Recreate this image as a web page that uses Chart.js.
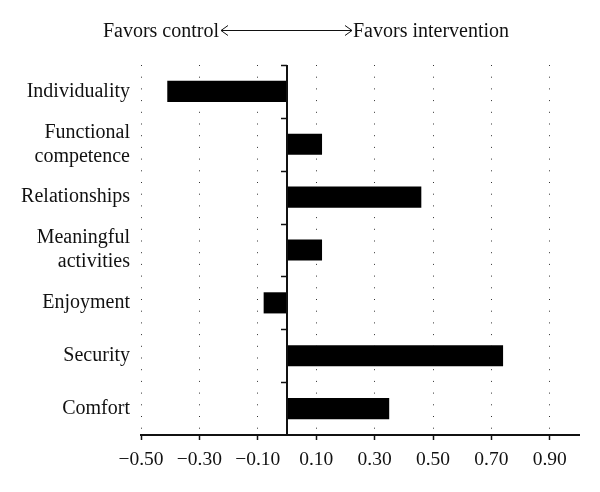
<!DOCTYPE html>
<html>
<head>
<meta charset="utf-8">
<script src="https://cdn.jsdelivr.net/npm/chart.js@4"></script>
<style>
  html, body { margin: 0; padding: 0; background: #fff; }
</style>
</head>
<body>
<canvas id="chart" width="600" height="492"></canvas>
<script>
// categories, top to bottom
const categories = ['Individuality', ['Functional', 'competence'], 'Relationships', ['Meaningful', 'activities'], 'Enjoyment', 'Security', 'Comfort'];
// effect sizes
const effectValues = [-0.41, 0.12, 0.46, 0.12, -0.08, 0.74, 0.35];
const xTickValues = [-0.5, -0.3, -0.1, 0.1, 0.3, 0.5, 0.7, 0.9];
const leftNote = 'Favors control';
const rightNote = 'Favors intervention';

const serif = '"Liberation Serif", "DejaVu Serif", serif';
const inkColor = '#111';

// solid axis at zero with small tick marks between the categories
const zeroAxisPlugin = {
    id: 'zeroAxis',
    afterDatasetsDraw(chart) {
        const { ctx, chartArea, scales: { x, y } } = chart;
        const x0 = Math.round(x.getPixelForValue(0));
        ctx.save();
        ctx.strokeStyle = inkColor;
        ctx.lineWidth = 2;
        ctx.beginPath();
        ctx.moveTo(x0, chartArea.top);
        ctx.lineTo(x0, chartArea.bottom);
        ctx.stroke();

        ctx.lineWidth = 1.5;
        const half = (y.getPixelForValue(1) - y.getPixelForValue(0)) / 2;
        for (let i = 0; i < categories.length; i++) {
            const ty = Math.round(y.getPixelForValue(i) - half) + 0.5;
            ctx.beginPath();
            ctx.moveTo(x0 - 6, ty);
            ctx.lineTo(x0, ty);
            ctx.stroke();
        }
        ctx.restore();
    }
};

// "Favors control <--> Favors intervention" centred on zero
const notesPlugin = {
    id: 'notes',
    afterDraw(chart) {
        const { ctx, scales: { x } } = chart;
        const x0 = x.getPixelForValue(0);
        const yText = 37;
        const yArrow = 30.5;
        ctx.save();
        ctx.fillStyle = inkColor;
        ctx.font = '20px ' + serif;
        ctx.textBaseline = 'alphabetic';
        ctx.textAlign = 'right';
        ctx.fillText(leftNote, x0 - 68, yText);
        ctx.textAlign = 'left';
        ctx.fillText(rightNote, x0 + 66, yText);

        const left = x0 - 66;
        const right = x0 + 65;
        ctx.strokeStyle = inkColor;
        ctx.lineWidth = 1;
        ctx.beginPath();
        ctx.moveTo(left, yArrow);
        ctx.lineTo(right, yArrow);
        ctx.moveTo(left + 7, yArrow - 5);
        ctx.lineTo(left, yArrow);
        ctx.lineTo(left + 7, yArrow + 5);
        ctx.moveTo(right - 7, yArrow - 5);
        ctx.lineTo(right, yArrow);
        ctx.lineTo(right - 7, yArrow + 5);
        ctx.stroke();
        ctx.restore();
    }
};

new Chart(document.getElementById('chart'), {
    type: 'bar',
    data: {
        labels: categories,
        datasets: [{
            data: effectValues,
            backgroundColor: '#000',
            borderWidth: 0,
            barPercentage: 0.4,
            categoryPercentage: 1.0,
        }],
    },
    options: {
        indexAxis: 'y',
        responsive: false,
        animation: false,
        layout: { padding: { top: 65, right: 21, left: 0, bottom: 0 } },
        plugins: {
            legend: { display: false },
            tooltip: { enabled: false },
        },
        scales: {
            x: {
                min: -0.5,
                max: 1.0,
                afterBuildTicks: (scale) => {
                    scale.ticks = xTickValues.map(v => ({ value: v }));
                },
                afterFit: (scale) => { scale.height = 57; },
                grid: {
                    color: '#333',
                    lineWidth: 1,
                    tickLength: 5,
                    tickColor: inkColor,
                    tickWidth: 1.5,
                },
                border: { display: true, color: inkColor, width: 2, dash: [1, 10.7] },
                ticks: {
                    color: inkColor,
                    padding: 8,
                    maxRotation: 0,
                    font: { family: serif, size: 19.5 },
                    callback: (v) => (v < 0 ? '\u2212' : '') + Math.abs(v).toFixed(2),
                },
            },
            y: {
                afterFit: (scale) => { scale.width = 141; },
                grid: { display: false },
                border: { display: false },
                ticks: {
                    color: inkColor,
                    padding: 3,
                    font: { family: serif, size: 20, lineHeight: 1.2 },
                },
            },
        },
    },
    plugins: [zeroAxisPlugin, notesPlugin],
});
</script>
</body>
</html>
